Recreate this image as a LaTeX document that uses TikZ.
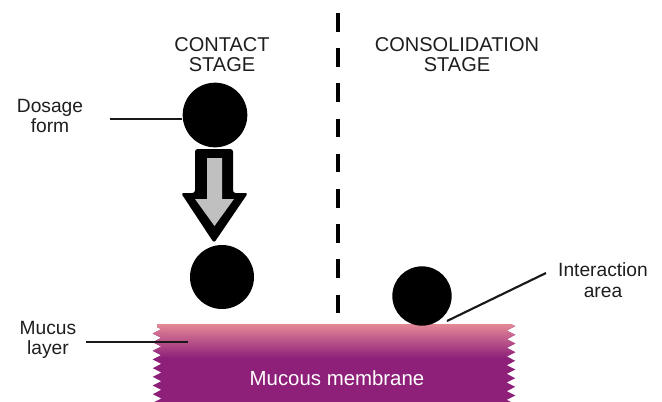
\documentclass[tikz,border=0pt]{standalone}
\usepackage{fontspec}
\setmainfont{Liberation Sans}
\usetikzlibrary{decorations.pathmorphing}
\definecolor{txt}{RGB}{30,30,30}
\definecolor{mpink}{RGB}{234,142,152}
\definecolor{mpurple}{RGB}{142,32,122}
\definecolor{agray}{RGB}{192,192,192}
\tikzset{
  lbl/.style={font=\fontsize{14.4}{15.5}\selectfont, text=txt, align=center, inner sep=0pt},
  ttl/.style={lbl, font=\fontsize{15}{15}\selectfont},
  ball/.style={circle, fill=black, inner sep=0pt},
  leader/.style={line width=1.6pt, draw=black!90},
  zz/.style={decorate, decoration={zigzag, segment length=6.5pt, amplitude=3.2pt}}
}
\begin{document}
\begin{tikzpicture}[x=0.75pt, y=-0.75pt]
\useasboundingbox (0,0) rectangle (662,401);
% membrane
\def\memb{(157,324) -- (511,324) decorate[zz]{-- (511,405)} -- (157,405) decorate[zz]{-- (157,324)}}
\fill[mpurple] \memb;
\begin{scope}
  \clip \memb;
  \shade[top color=mpink, bottom color=mpurple] (140,322) rectangle (530,358);
\end{scope}
\node[lbl, text=white, font=\fontsize{15.3}{15}\selectfont] (mm) at (337,378) {Mucous membrane};
% divider
\coordinate (dtop) at (338,13);
\coordinate (dbot) at (338,314);
\draw[line width=3.6pt, dash pattern=on 14pt off 12.4pt] (dtop) -- (dbot);
% titles
\node[ttl] (cs) at (222,55) {CONTACT\\STAGE};
\node[ttl] (ks) at (457,55) {CONSOLIDATION\\STAGE};
% balls
\node[ball, minimum size=48.5pt] (dose) at (215,115) {};
\node[ball, minimum size=48pt] (b2) at (222,277) {};
\node[ball, minimum size=44.5pt] (b3) at (422,296) {};
% arrow
\fill[black, rounded corners=2pt] (195,149) -- (233,149) -- (233,193) -- (248,193) -- (214,243) -- (181,193) -- (195,193) -- cycle;
\fill[agray] (207,158) -- (222,158) -- (222,199) -- (234,199) -- (214.5,226) -- (195,199) -- (207,199) -- cycle;
% labels
\node[lbl] (df) at (50,116) {Dosage\\form};
\coordinate (dfl) at (110,119);
\draw[leader] (dfl) -- (dfl -| dose.west);
\node[lbl] (ml) at (48,340) {Mucus\\layer};
\coordinate (mla) at (86,342);
\coordinate (mlb) at (188,342);
\draw[leader] (mla) -- (mlb);
\node[lbl] (ia) at (603,280) {Interaction\\area};
\coordinate (iaa) at (546,273);
\coordinate (iab) at (447,321);
\draw[leader] (iaa) -- (iab);
\end{tikzpicture}
\end{document}
